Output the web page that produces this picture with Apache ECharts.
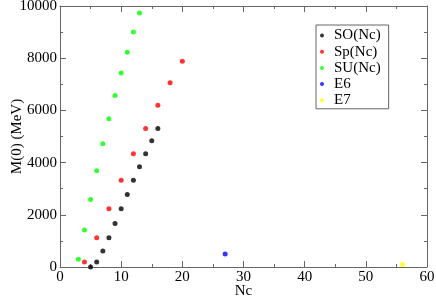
<!DOCTYPE html>
<html>
<head>
<meta charset="utf-8">
<script src="https://cdn.jsdelivr.net/npm/echarts@6/dist/echarts.min.js"></script>
<style>html,body{margin:0;padding:0;background:#fff}#c{width:436px;height:297px}</style>
</head>
<body>
<div id="c"></div>
<script>
var soNc = [5, 6, 7, 8, 9, 10, 11, 12, 13, 14, 15, 16];
var soM  = [0, 190, 610, 1120, 1670, 2230, 2780, 3320, 3840, 4340, 4840, 5310];
var spNc = [4, 6, 8, 10, 12, 14, 16, 18, 20];
var spM  = [190, 1120, 2230, 3320, 4340, 5310, 6200, 7060, 7880];
var suNc = [3, 4, 5, 6, 7, 8, 9, 10, 11, 12, 13];
var suM  = [300, 1420, 2590, 3690, 4720, 5680, 6570, 7430, 8230, 9000, 9730];
var e6Nc = [27];
var e6M  = [500];
var e7Nc = [56];
var e7M  = [100];

function pairs(xs, ys) { return xs.map(function (x, i) { return [x, ys[i]]; }); }

var font = 'Liberation Serif';
var axisCol = '#666';
function plain(v) { return '{t|' + v + '}'; }
var rich = {t: {fontFamily: font, fontSize: 15, color: '#000'}};
function xAx(pos, showLabel) {
  return {
    type: 'value', position: pos, min: 0, max: 60, interval: 10,
    name: showLabel ? 'Nc' : '', nameLocation: 'middle', nameGap: 17, nameMoveOverlap: false,
    nameTextStyle: {fontFamily: font, fontSize: 15, color: '#000'},
    axisLine: {show: true, onZero: false, lineStyle: {color: axisCol, width: 1}},
    axisTick: {show: true, inside: true, length: 6, lineStyle: {color: axisCol}},
    minorTick: {show: true, splitNumber: 2, length: 3, lineStyle: {color: axisCol}},
    axisLabel: {show: showLabel, fontFamily: font, fontSize: 15, color: '#000', margin: 3, formatter: plain, rich: rich},
    splitLine: {show: false}
  };
}
function yAx(pos, showLabel) {
  return {
    type: 'value', position: pos, min: 0, max: 10000, interval: 2000,
    name: showLabel ? 'M(0) (MeV)' : '', nameLocation: 'middle', nameGap: 35, nameMoveOverlap: false,
    nameTextStyle: {fontFamily: font, fontSize: 15, color: '#000'},
    axisLine: {show: true, onZero: false, lineStyle: {color: axisCol, width: 1}},
    axisTick: {show: true, inside: true, length: 6, lineStyle: {color: axisCol}},
    minorTick: {show: true, splitNumber: 2, length: 3, lineStyle: {color: axisCol}},
    axisLabel: {show: showLabel, fontFamily: font, fontSize: 15, color: '#000', margin: 3, formatter: plain, rich: rich},
    splitLine: {show: false}
  };
}
function sc(name, xs, ys, col) {
  return {
    name: name, type: 'scatter', data: pairs(xs, ys), symbol: 'circle', symbolSize: 5,
    itemStyle: {color: col}, xAxisIndex: 0, yAxisIndex: 0
  };
}
var chart = echarts.init(document.getElementById('c'), null, {renderer: 'canvas'});
chart.setOption({
  animation: false,
  backgroundColor: '#fff',
  textStyle: {fontFamily: font},
  grid: {left: 60, right: 9, top: 6, bottom: 30, containLabel: false, outerBoundsMode: 'none'},
  xAxis: [xAx('bottom', true), xAx('top', false)],
  yAxis: [yAx('left', true), yAx('right', false)],
  legend: {
    orient: 'vertical', left: 316, top: 25,
    borderColor: axisCol, borderWidth: 1, borderRadius: 0,
    padding: [3, 8, 1, 4],
    itemWidth: 14, itemHeight: 4, itemGap: 1.2, icon: 'circle',
    textStyle: {fontFamily: font, fontSize: 15, color: '#000', lineHeight: 15},
    data: ['SO(Nc)', 'Sp(Nc)', 'SU(Nc)', 'E6', 'E7']
  },
  series: [
    sc('SO(Nc)', soNc, soM, '#000000'),
    sc('Sp(Nc)', spNc, spM, '#ff0000'),
    sc('SU(Nc)', suNc, suM, '#00ff00'),
    sc('E6', e6Nc, e6M, '#0000ff'),
    sc('E7', e7Nc, e7M, '#ffff00')
  ]
});
</script>
</body>
</html>
